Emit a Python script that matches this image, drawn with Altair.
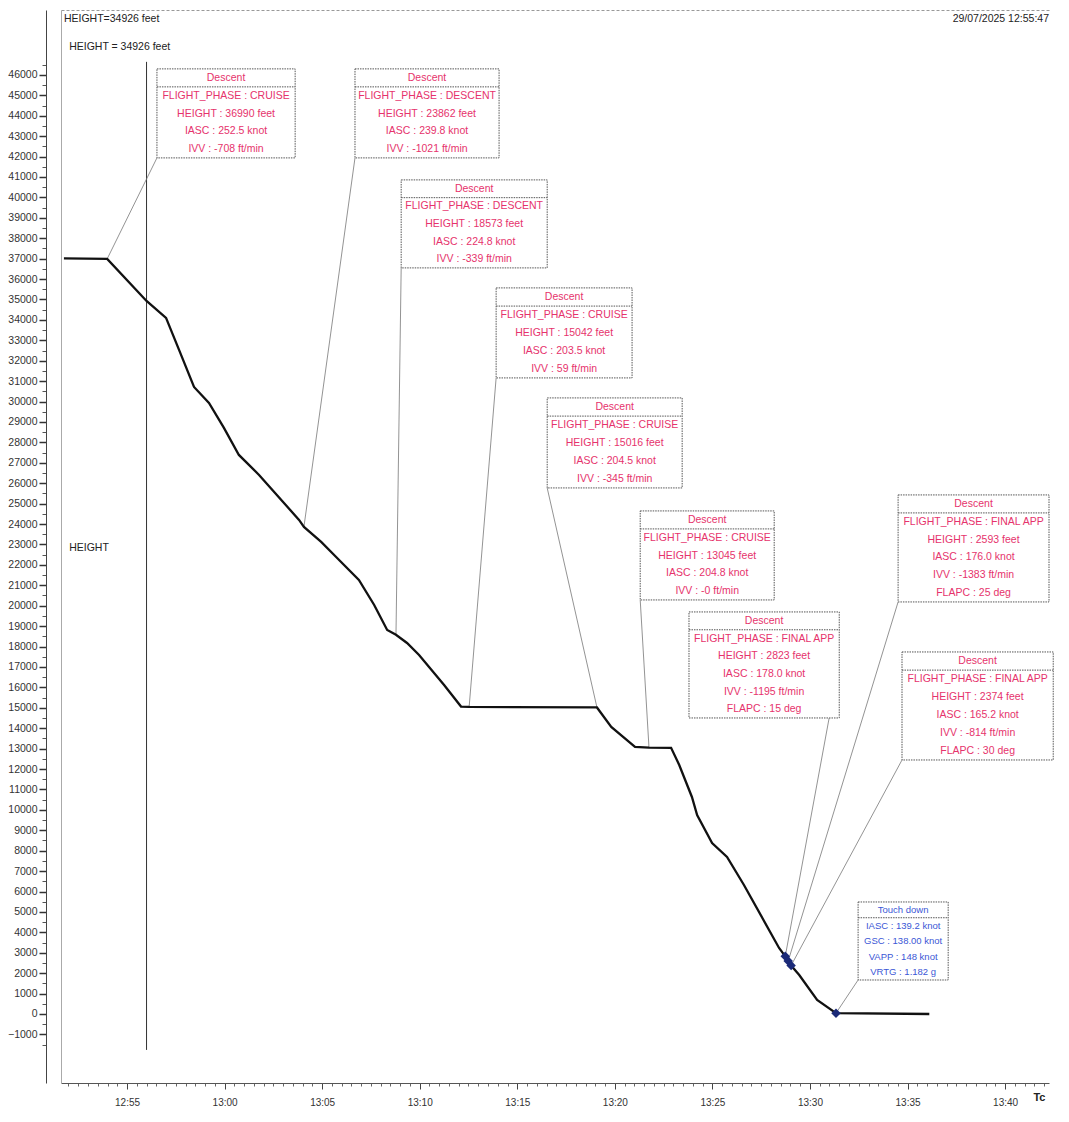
import altair as alt
import pandas as pd

# ---------------- data ----------------
curve_time = ["12:51:46", "12:53:59", "12:56:00", "12:57:00", "12:57:40", "12:58:26",
              "12:59:12", "12:59:58", "13:00:44", "13:01:46", "13:03:49", "13:04:04",
              "13:04:57", "13:05:43", "13:06:53", "13:07:40", "13:08:20", "13:08:47",
              "13:09:21", "13:09:58", "13:11:15", "13:12:07", "13:12:32", "13:19:05",
              "13:19:49", "13:21:02", "13:21:45", "13:22:53", "13:23:18", "13:23:57",
              "13:24:13", "13:24:59", "13:25:45", "13:26:37", "13:28:25", "13:28:44",
              "13:28:53", "13:29:02", "13:29:27", "13:30:22", "13:31:20", "13:36:07"]
curve_height = [37010, 36990, 34926, 34100, 32530, 30717,
                29933, 28708, 27385, 26405, 24201, 23862,
                23123, 22388, 21262, 20037, 18812, 18573,
                18175, 17587, 16118, 15060, 15042, 15016,
                14060, 13080, 13045, 13040, 12198, 10631,
                9749, 8377, 7691, 6320, 3233, 2823,
                2593, 2374, 1911, 686, 40, 0]

marker_time = ["13:28:44", "13:28:53", "13:29:02", "13:31:20"]
marker_height = [2823, 2593, 2374, 40]

cursor_time = "12:56:00"
cursor_span = [-1760, 46640]

ann_title = ["Descent"] * 9 + ["Touch down"]
ann_lines = [
    ["FLIGHT_PHASE : CRUISE", "HEIGHT : 36990 feet", "IASC : 252.5 knot", "IVV : -708 ft/min"],
    ["FLIGHT_PHASE : DESCENT", "HEIGHT : 23862 feet", "IASC : 239.8 knot", "IVV : -1021 ft/min"],
    ["FLIGHT_PHASE : DESCENT", "HEIGHT : 18573 feet", "IASC : 224.8 knot", "IVV : -339 ft/min"],
    ["FLIGHT_PHASE : CRUISE", "HEIGHT : 15042 feet", "IASC : 203.5 knot", "IVV : 59 ft/min"],
    ["FLIGHT_PHASE : CRUISE", "HEIGHT : 15016 feet", "IASC : 204.5 knot", "IVV : -345 ft/min"],
    ["FLIGHT_PHASE : CRUISE", "HEIGHT : 13045 feet", "IASC : 204.8 knot", "IVV : -0 ft/min"],
    ["FLIGHT_PHASE : FINAL APP", "HEIGHT : 2823 feet", "IASC : 178.0 knot", "IVV : -1195 ft/min", "FLAPC : 15 deg"],
    ["FLIGHT_PHASE : FINAL APP", "HEIGHT : 2593 feet", "IASC : 176.0 knot", "IVV : -1383 ft/min", "FLAPC : 25 deg"],
    ["FLIGHT_PHASE : FINAL APP", "HEIGHT : 2374 feet", "IASC : 165.2 knot", "IVV : -814 ft/min", "FLAPC : 30 deg"],
    ["IASC : 139.2 knot", "GSC : 138.00 knot", "VAPP : 148 knot", "VRTG : 1.182 g"],
]
# annotation box extents (time / feet) and leader lines
box_left = ["12:56:32", "13:06:41", "13:09:03", "13:13:55", "13:16:32",
            "13:21:18", "13:23:48", "13:34:31", "13:34:43", "13:32:28"]
box_right = ["13:03:37", "13:14:04", "13:16:32", "13:20:53", "13:23:27",
             "13:28:10", "13:31:30", "13:42:15", "13:42:28", "13:37:05"]
box_top = [46296, 46296, 40858, 35567, 30178, 24642, 19694, 25426, 17734, 5487]
box_bottom = [41935, 41935, 36547, 31158, 25769, 20282, 14501, 20184, 12443, 1666]
leader_from = ["12:56:32", "13:06:41", "13:09:03", "13:13:55", "13:16:32",
               "13:21:18", "13:30:59", "13:34:31", "13:34:43", "13:32:28"]
leader_to_time = ["12:53:59", "13:04:04", "13:08:47", "13:12:32", "13:19:05",
                  "13:21:45", "13:28:44", "13:28:53", "13:29:02", "13:31:20"]
leader_to_height = [36990, 23862, 18573, 15042, 15016, 13045, 2823, 2593, 2374, 40]

header_left = ["HEIGHT=34926 feet", "HEIGHT = 34926 feet", "HEIGHT"]
header_left_time = ["12:51:46", "12:52:02", "12:52:02"]
header_left_height = [48745, 47373, 22829]
header_right = "29/07/2025 12:55:47"
header_right_time = "13:42:15"
header_right_height = 48745

x_major = ["12:55", "13:00", "13:05", "13:10", "13:15", "13:20", "13:25", "13:30", "13:35", "13:40"]
y_major = list(range(-1000, 46001, 1000))
y_minor = list(range(-1500, 46501, 500))

X_DOMAIN = ["12:51:37", "13:42:15"]
Y_DOMAIN = [-3380, 49180]

RED = "#e6336c"
BLUE = "#3b57d6"


def to_min(s):
    parts = [int(v) for v in s.split(":")]
    if len(parts) == 2:
        parts.append(0)
    return parts[0] * 60 + parts[1] + parts[2] / 60.0


W, H = 988, 1073
xd = [to_min(v) for v in X_DOMAIN]
xs = alt.Scale(domain=xd, nice=False, zero=False)
ys = alt.Scale(domain=Y_DOMAIN, nice=False, zero=False)

x_major_vals = [to_min(v) for v in x_major]
x_minor_vals = [xd[0] + 0.0]  # placeholder replaced below
x_minor_vals = [m / 2.0 for m in range(int(xd[0] * 2) + 1, int(xd[1] * 2) + 1)]

curve = pd.DataFrame({"t": [to_min(v) for v in curve_time], "h": curve_height})
markers = pd.DataFrame({"t": [to_min(v) for v in marker_time], "h": marker_height})

boxes, dividers, texts, leaders = [], [], [], []
for i in range(len(box_left)):
    l, r = to_min(box_left[i]), to_min(box_right[i])
    top, bot = box_top[i], box_bottom[i]
    n = len(ann_lines[i])
    band = (top - bot) / (n + 0.95)
    div = top - band
    step = (div - bot) / n
    col = BLUE if i == 9 else RED
    fs = 9.5 if i == 9 else 10.5
    boxes.append({"l": l, "r": r, "top": top, "bot": bot})
    dividers.append({"l": l, "r": r, "h": div})
    cx = (l + r) / 2
    texts.append({"t": cx, "h": (top + div) / 2, "txt": ann_title[i], "col": col, "fs": fs})
    for k, line in enumerate(ann_lines[i]):
        texts.append({"t": cx, "h": div - (k + 0.5) * step, "txt": line, "col": col, "fs": fs})
    leaders.append({"t": to_min(leader_from[i]), "h": bot,
                    "t2": to_min(leader_to_time[i]), "h2": leader_to_height[i]})

boxes = pd.DataFrame(boxes)
dividers = pd.DataFrame(dividers)
texts = pd.DataFrame(texts)
leaders = pd.DataFrame(leaders)
headers = pd.DataFrame({"t": [to_min(v) for v in header_left_time],
                        "h": header_left_height, "txt": header_left})
header_r = pd.DataFrame({"t": [to_min(header_right_time)], "h": [header_right_height],
                         "txt": [header_right]})
cursor = pd.DataFrame({"t": [to_min(cursor_time)], "h": [cursor_span[0]], "h2": [cursor_span[1]]})

label_expr = ("floor(datum.value/60) + ':' + (round(datum.value%60) < 10 ? '0' : '') "
              "+ round(datum.value%60)")

NOX = alt.X("t:Q", scale=xs, axis=None)
NOY = alt.Y("h:Q", scale=ys, axis=None)

# main line with major axes
line = alt.Chart(curve).mark_line(color="#111", strokeWidth=2.3).encode(
    x=alt.X("t:Q", scale=xs, axis=alt.Axis(
        orient="bottom", values=x_major_vals, labelExpr=label_expr, title="Tc",
        titleAnchor="end", titleAlign="right", titleX=W - 4, titleY=14,
        titleBaseline="middle", titleFontSize=11, titleFontWeight="bold",
        titleColor="#222", labelFontSize=10, labelColor="#333", labelPadding=8,
        tickSize=6, tickColor="#444", domainColor="#555", grid=False,
        labelFont="Liberation Sans", titleFont="Liberation Sans")),
    y=alt.Y("h:Q", scale=ys, axis=alt.Axis(
        orient="left", values=y_major, format="d", title=None, offset=15,
        tickSize=7, tickWidth=1.5, tickColor="#333", domainColor="#444",
        labelFontSize=10.5, labelColor="#333", labelPadding=2, grid=False,
        labelFont="Liberation Sans")),
)

minor_x = alt.Chart(curve).mark_point(opacity=0).encode(
    x=alt.X("t:Q", scale=xs, axis=alt.Axis(
        orient="bottom", values=x_minor_vals, labels=False, tickSize=3,
        tickColor="#666", domain=False, title=None, grid=False)),
    y=NOY,
)
minor_y = alt.Chart(curve).mark_point(opacity=0).encode(
    x=NOX,
    y=alt.Y("h:Q", scale=ys, axis=alt.Axis(
        orient="left", values=y_minor, labels=False, tickSize=4, offset=15,
        tickColor="#555", domain=False, title=None, grid=False)),
)
border_left = alt.Chart(curve).mark_point(opacity=0).encode(
    x=NOX,
    y=alt.Y("h:Q", scale=ys, axis=alt.Axis(
        orient="left", labels=False, ticks=False, domainColor="#aaa",
        title=None, grid=False, offset=0)),
)
border_top = alt.Chart(curve).mark_point(opacity=0).encode(
    x=alt.X("t:Q", scale=xs, axis=alt.Axis(
        orient="top", labels=False, ticks=False, domainColor="#999",
        domainDash=[3, 2], title=None, grid=False)),
    y=NOY,
)

cursor_rule = alt.Chart(cursor).mark_rule(color="#333", strokeWidth=1).encode(
    x=NOX, y=NOY, y2="h2:Q")

leader_rules = alt.Chart(leaders).mark_rule(color="#777", strokeWidth=0.8).encode(
    x=NOX, y=NOY, x2="t2:Q", y2="h2:Q")

box_rects = alt.Chart(boxes).mark_rect(
    fill="white", stroke="#555", strokeWidth=1, strokeDash=[1.5, 1]).encode(
    x=alt.X("l:Q", scale=xs, axis=None), x2="r:Q",
    y=alt.Y("top:Q", scale=ys, axis=None), y2="bot:Q")

div_rules = alt.Chart(dividers).mark_rule(color="#555", strokeWidth=1, strokeDash=[1.5, 1]).encode(
    x=alt.X("l:Q", scale=xs, axis=None), x2="r:Q", y=NOY)

box_text = alt.Chart(texts).mark_text(
    font="Liberation Sans", baseline="middle", align="center").encode(
    x=NOX, y=NOY, text="txt:N",
    color=alt.Color("col:N", scale=None),
    size=alt.Size("fs:Q", scale=None))

marker_pts = alt.Chart(markers).mark_point(
    shape="diamond", filled=True, color="#1b2a78", size=90, opacity=1).encode(x=NOX, y=NOY)

head_text = alt.Chart(headers).mark_text(
    font="Liberation Sans", fontSize=10.5, align="left", baseline="middle", color="#222").encode(
    x=NOX, y=NOY, text="txt:N")
head_right = alt.Chart(header_r).mark_text(
    font="Liberation Sans", fontSize=10.5, align="right", baseline="middle", color="#222").encode(
    x=NOX, y=NOY, text="txt:N")

chart = alt.layer(
    border_left, border_top, minor_x, minor_y,
    cursor_rule, leader_rules, box_rects, div_rules, box_text,
    line, marker_pts, head_text, head_right,
).resolve_axis(x="independent", y="independent").properties(
    width=W, height=H,
    padding={"left": 7, "top": 10, "right": 5, "bottom": 5},
    background="white",
).configure_view(stroke=None)

chart.save("out.html", embed_options={"renderer": "svg", "actions": False})
